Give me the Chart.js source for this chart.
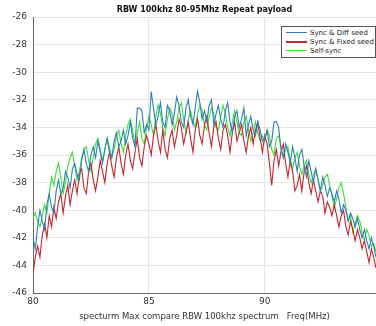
<!DOCTYPE html>
<html>
<head>
<meta charset="utf-8">
<script src="https://cdn.jsdelivr.net/npm/chart.js@4"></script>
<style>
    html, body { margin: 0; padding: 0; background: #fff; }
    .wrap { position: relative; width: 376px; height: 326px; overflow: hidden; }
    .legend {
        position: absolute; left: 281px; top: 26px; width: 93px;
        border: 1px solid #555; background: #fff;
        font: 7px "DejaVu Sans", sans-serif; color: #222;
        padding: 1px 0 2px 0; white-space: nowrap;
    }
    .legend .row { display: flex; align-items: center; height: 9px; }
    .legend .swatch { width: 21px; height: 0; border-top: 1px solid; margin: 0 3px 0 4px; flex: none; }
    .legend .red { border-top-width: 2px; }
</style>
</head>
<body>
<div class="wrap">
    <canvas id="spectrum" width="376" height="326"></canvas>
    <div class="legend" id="legend"></div>
</div>
<script>
// spectrum max, 0.1 MHz bins from 80.0 MHz
const freqStart = 80;
const freqStep = 0.1;

const diffSeed = [
    -42.0, -42.8, -41.2, -40.0, -40.8, -41.4, -39.6, -38.8, -39.8, -40.2,
    -38.6, -37.8, -38.8, -38.4, -37.2, -37.6, -38.4, -37.0, -36.6, -37.4,
    -37.8, -36.4, -35.6, -36.6, -37.2, -36.0, -35.4, -36.2, -35.0, -35.8,
    -36.6, -35.6, -34.8, -35.8, -36.2, -35.0, -34.4, -35.4, -35.0, -34.2,
    -35.2, -34.6, -33.6, -34.8, -35.4, -32.6, -32.6, -32.8, -34.4, -33.8,
    -34.2, -31.4, -32.6, -33.8, -33.2, -32.2, -33.6, -34.0, -32.4, -32.8,
    -33.8, -33.0, -31.8, -32.4, -33.6, -34.0, -32.6, -32.0, -33.2, -33.8,
    -32.6, -31.4, -32.2, -33.4, -32.8, -33.6, -32.4, -32.0, -33.8, -33.0,
    -32.4, -33.4, -34.0, -32.8, -32.2, -33.6, -34.4, -33.2, -32.8, -34.0,
    -33.4, -32.6, -34.6, -33.8, -33.2, -34.2, -34.6, -33.6, -34.2, -35.0,
    -34.8, -34.2, -35.4, -35.0, -33.6, -33.6, -34.0, -35.6, -36.2, -35.2,
    -35.8, -36.6, -35.4, -36.2, -37.2, -36.0, -35.6, -36.8, -37.6, -36.4,
    -37.2, -38.0, -37.0, -37.8, -38.6, -37.6, -38.2, -39.0, -38.4, -38.8,
    -39.4, -38.6, -39.2, -40.2, -39.6, -40.0, -40.8, -40.2, -40.6, -41.2,
    -40.6, -41.4, -42.0, -41.4, -42.2, -42.8, -42.0, -42.6, -43.4
];

const fixedSeed = [
    -44.6, -43.4, -42.6, -43.4, -41.8, -41.0, -42.0, -40.4, -41.2, -39.8,
    -40.6, -39.4, -38.8, -40.2, -39.0, -38.2, -39.6, -38.6, -37.8, -38.8,
    -37.4, -37.0, -38.4, -38.8, -37.2, -36.6, -37.8, -38.6, -37.6, -36.4,
    -37.2, -38.0, -36.6, -35.8, -36.8, -37.6, -36.2, -35.4, -36.6, -37.4,
    -36.0, -35.2, -36.4, -37.0, -35.8, -34.8, -36.2, -36.8, -35.4, -34.6,
    -35.2, -36.0, -34.6, -33.8, -35.0, -35.8, -34.2, -35.6, -36.2, -34.8,
    -34.2, -35.4, -34.6, -33.4, -34.0, -35.2, -34.4, -33.6, -34.8, -35.8,
    -34.2, -33.4, -34.6, -35.2, -33.8, -33.2, -34.4, -35.4, -34.0, -33.6,
    -34.8, -35.6, -34.2, -33.8, -34.6, -35.8, -34.4, -33.6, -35.0, -34.4,
    -33.8, -35.0, -35.8, -34.6, -34.0, -35.2, -34.2, -33.6, -34.8, -35.8,
    -34.6, -35.2, -36.6, -38.2, -36.4, -35.6, -36.8, -35.8, -35.2, -36.6,
    -37.6, -36.4, -37.2, -38.6, -38.2, -37.4, -38.6, -37.2, -36.8, -38.0,
    -38.8, -37.8, -38.6, -39.4, -38.6, -39.0, -40.2, -39.4, -39.8, -40.4,
    -39.6, -40.4, -41.2, -40.4, -40.0, -41.2, -41.8, -40.8, -41.4, -42.2,
    -41.4, -42.0, -42.8, -42.2, -43.0, -43.8, -42.8, -43.4, -44.2
];

const selfSync = [
    -40.6, -40.2, -40.8, -41.2, -40.4, -39.6, -40.2, -38.8, -37.6, -38.2,
    -37.2, -36.6, -37.6, -38.8, -38.0, -36.8, -36.2, -35.8, -36.8, -37.8,
    -37.2, -36.2, -35.6, -35.4, -36.4, -37.2, -36.2, -35.2, -34.8, -35.6,
    -36.4, -35.6, -34.8, -35.4, -36.2, -35.6, -34.6, -34.2, -35.2, -35.8,
    -34.6, -33.8, -33.4, -34.2, -35.2, -34.4, -33.6, -34.8, -35.2, -34.0,
    -33.2, -33.8, -34.6, -33.2, -32.4, -33.0, -34.0, -34.6, -33.4, -32.6,
    -33.0, -34.2, -33.6, -32.6, -32.2, -33.4, -34.4, -33.4, -32.8, -33.6,
    -34.0, -33.0, -32.4, -32.8, -33.8, -34.2, -33.2, -32.6, -33.0, -34.0,
    -34.2, -33.2, -32.4, -33.0, -34.0, -34.6, -33.6, -32.8, -33.6, -34.4,
    -34.6, -33.6, -33.2, -34.2, -35.0, -34.4, -33.6, -34.4, -35.0, -34.6,
    -35.0, -34.2, -34.6, -35.6, -36.0, -34.8, -34.6, -35.4, -36.2, -35.6,
    -35.4, -36.4, -37.0, -36.2, -35.8, -36.8, -37.4, -36.8, -36.4, -37.4,
    -38.0, -37.4, -37.0, -37.8, -38.6, -38.2, -37.6, -37.4, -38.2, -39.0,
    -39.8, -39.2, -38.4, -38.0, -38.8, -39.8, -40.8, -40.4, -41.6, -41.0,
    -40.4, -40.8, -41.6, -42.2, -41.4, -41.8, -42.6, -42.4, -43.0
];

const xTicks = [80, 85, 90];
const yTicks = [-46, -44, -42, -40, -38, -36, -34, -32, -30, -28, -26];

const series = [
    { label: 'Sync & Diff seed', values: diffSeed, color: '#2f7fba' },
    { label: 'Sync & Fixed seed', values: fixedSeed, color: '#c3262c' },
    { label: 'Self-sync', values: selfSync, color: '#3ddc3a' }
];

const toPoints = values => values.map((v, i) => ({ x: freqStart + i * freqStep, y: v }));

const font = 'DejaVu Sans';

new Chart(document.getElementById('spectrum'), {
    type: 'line',
    data: {
        datasets: series.map(s => ({
            label: s.label,
            data: toPoints(s.values),
            borderColor: s.color,
            borderWidth: 1.1,
            pointRadius: 0,
            tension: 0
        }))
    },
    options: {
        responsive: false,
        animation: false,
        layout: { padding: 0 },
        plugins: {
            legend: { display: false },
            tooltip: { enabled: false },
            title: {
                display: true,
                text: 'RBW 100khz 80-95Mhz Repeat payload',
                fullSize: false,
                color: '#111',
                font: { family: font, size: 8, weight: 'bold' },
                padding: { top: 5, bottom: 2.4 }
            }
        },
        scales: {
            x: {
                type: 'linear',
                min: 80,
                max: 94.8,
                afterBuildTicks: scale => { scale.ticks = xTicks.map(v => ({ value: v })); },
                afterFit: scale => { scale.height = 33; },
                grid: { color: '#e6e6e6', drawTicks: false },
                border: { color: '#666' },
                ticks: { color: '#333', padding: 3, font: { family: font, size: 9 } },
                title: {
                    display: true,
                    text: 'specturm Max compare RBW 100khz spectrum   Freq(MHz)',
                    color: '#333',
                    font: { family: font, size: 8.5 },
                    padding: { top: 0, bottom: 4 }
                }
            },
            y: {
                min: -46,
                max: -26,
                afterBuildTicks: scale => { scale.ticks = yTicks.map(v => ({ value: v })); },
                afterFit: scale => { scale.width = 33; },
                grid: { color: '#e6e6e6', drawTicks: false },
                border: { color: '#666' },
                ticks: { color: '#333', padding: 6, font: { family: font, size: 9 } }
            }
        }
    }
});

// legend box drawn inside the plot, top right
const legend = document.getElementById('legend');
series.forEach((s, i) => {
    const row = document.createElement('div');
    row.className = 'row';
    const swatch = document.createElement('span');
    swatch.className = 'swatch' + (i === 1 ? ' red' : '');
    swatch.style.borderTopColor = s.color;
    const text = document.createElement('span');
    text.textContent = s.label;
    row.appendChild(swatch);
    row.appendChild(text);
    legend.appendChild(row);
});
</script>
</body>
</html>
